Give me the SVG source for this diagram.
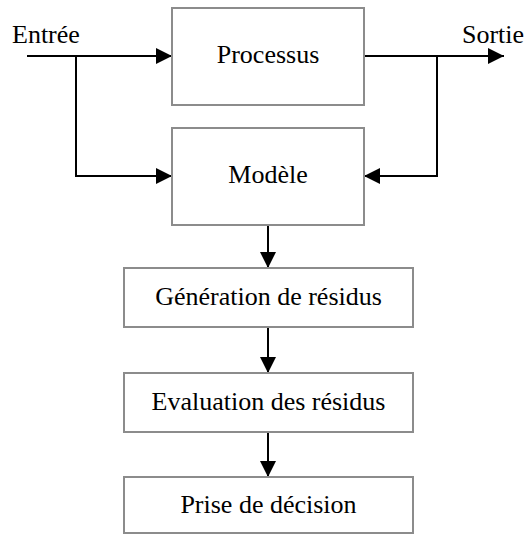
<svg xmlns="http://www.w3.org/2000/svg" width="527" height="536" viewBox="0 0 527 536">
  <style>
    .box { fill: #ffffff; stroke: #8c8c8c; stroke-width: 2; }
    .lbl { font-family: "Liberation Serif", "Times New Roman", serif; font-size: 26px; fill: #000000; }
    .mid { text-anchor: middle; }
    .wire { fill: none; stroke: #000000; stroke-width: 2; }
  </style>
  <defs>
    <marker id="arrow" viewBox="0 0 16 16" refX="16" refY="8" markerWidth="16" markerHeight="16" markerUnits="userSpaceOnUse" orient="auto">
      <path d="M0,0 L16,8 L0,16 Z" fill="#000000"/>
    </marker>
  </defs>
  <rect width="527" height="536" fill="#ffffff"/>

  <g id="connectors">
    <!-- input into the process, with a branch down to the model -->
    <path class="wire" d="M27,56 H172" marker-end="url(#arrow)"/>
    <path class="wire" d="M76,56 V176 H172" marker-end="url(#arrow)"/>
    <!-- process output, with a branch back to the model -->
    <path class="wire" d="M364,56 H504" marker-end="url(#arrow)"/>
    <path class="wire" d="M437,56 V176 H364" marker-end="url(#arrow)"/>
    <!-- vertical chain -->
    <path class="wire" d="M268,225 V268" marker-end="url(#arrow)"/>
    <path class="wire" d="M268,327 V373" marker-end="url(#arrow)"/>
    <path class="wire" d="M268,432 V477" marker-end="url(#arrow)"/>
  </g>

  <g id="entree">
    <text class="lbl" x="12" y="43">Entrée</text>
  </g>
  <g id="sortie">
    <text class="lbl" x="462" y="43">Sortie</text>
  </g>

  <g id="processus">
    <rect class="box" x="172" y="8" width="192" height="97"/>
    <text class="lbl mid" x="268" y="63">Processus</text>
  </g>
  <g id="modele">
    <rect class="box" x="172" y="128" width="192" height="97"/>
    <text class="lbl mid" x="268" y="183">Modèle</text>
  </g>
  <g id="generation">
    <rect class="box" x="124" y="268" width="289" height="59"/>
    <text class="lbl mid" x="268.5" y="305">Génération de résidus</text>
  </g>
  <g id="evaluation">
    <rect class="box" x="124" y="373" width="289" height="59"/>
    <text class="lbl mid" x="268.5" y="410">Evaluation des résidus</text>
  </g>
  <g id="decision">
    <rect class="box" x="124" y="477" width="289" height="56"/>
    <text class="lbl mid" x="268.5" y="513">Prise de décision</text>
  </g>
</svg>
